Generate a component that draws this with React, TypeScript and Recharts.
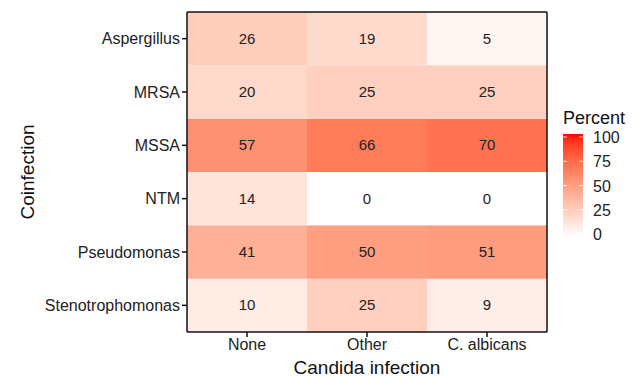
import { Bar, BarChart, Cell, Label, XAxis, YAxis } from "recharts";

const rows = ["Aspergillus", "MRSA", "MSSA", "NTM", "Pseudomonas", "Stenotrophomonas"];
const cols = ["None", "Other", "C. albicans"];
const noneVals = [26, 20, 57, 14, 41, 10];
const otherVals = [19, 25, 66, 0, 50, 25];
const albicansVals = [5, 25, 70, 0, 51, 9];
const legendTicks = [0, 25, 50, 75, 100];

const colVals = [noneVals, otherVals, albicansVals];

const FONT = "'Liberation Sans', Arial, sans-serif";

// white -> red, interpolated in Lab like ggplot's gradient
function toLin(c: number) {
  c /= 255;
  return c <= 0.04045 ? c / 12.92 : Math.pow((c + 0.055) / 1.055, 2.4);
}
function fromLin(c: number) {
  const v = c <= 0.0031308 ? 12.92 * c : 1.055 * Math.pow(c, 1 / 2.4) - 0.055;
  return Math.max(0, Math.min(255, Math.round(v * 255)));
}
const Xn = 0.95047, Yn = 1, Zn = 1.08883;
function rgbToLab(r: number, g: number, b: number) {
  const R = toLin(r), G = toLin(g), B = toLin(b);
  const X = R * 0.4124 + G * 0.3576 + B * 0.1805;
  const Y = R * 0.2126 + G * 0.7152 + B * 0.0722;
  const Z = R * 0.0193 + G * 0.1192 + B * 0.9505;
  const f = (t: number) => (t > 0.008856 ? Math.cbrt(t) : 7.787 * t + 16 / 116);
  const fx = f(X / Xn), fy = f(Y / Yn), fz = f(Z / Zn);
  return [116 * fy - 16, 500 * (fx - fy), 200 * (fy - fz)];
}
function labToHex(L: number, a: number, b: number) {
  const fy = (L + 16) / 116, fx = fy + a / 500, fz = fy - b / 200;
  const inv = (t: number) => (t ** 3 > 0.008856 ? t ** 3 : (t - 16 / 116) / 7.787);
  const X = inv(fx) * Xn, Y = inv(fy) * Yn, Z = inv(fz) * Zn;
  const R = X * 3.2406 + Y * -1.5372 + Z * -0.4986;
  const G = X * -0.9689 + Y * 1.8758 + Z * 0.0415;
  const B = X * 0.0557 + Y * -0.204 + Z * 1.057;
  const h = (v: number) => fromLin(v).toString(16).padStart(2, "0");
  return "#" + h(R) + h(G) + h(B);
}
const LOW = rgbToLab(255, 255, 255);
const HIGH = rgbToLab(255, 0, 0);
function fillFor(v: number) {
  const t = Math.max(0, Math.min(1, v / 100));
  return labToHex(
    LOW[0] + (HIGH[0] - LOW[0]) * t,
    LOW[1] + (HIGH[1] - LOW[1]) * t,
    LOW[2] + (HIGH[2] - LOW[2]) * t
  );
}

// one stacked segment per row, bottom row first
const data = cols.map((c) => {
  const d: Record<string, string | number> = { col: c };
  rows.forEach((r) => (d[r] = 1));
  return d;
});
const stackOrder = [...rows].reverse();
const rowTicks = rows.map((_, i) => i + 0.5);

function Legend() {
  const top = 134, bottom = 237, x = 563, w = 20;
  const y100 = 137, y0 = 234;
  const yFor = (v: number) => y0 - ((y0 - y100) * v) / 100;
  return (
    <svg width={635} height={377} style={{ position: "absolute", left: 0, top: 0, pointerEvents: "none" }}>
      <defs>
        <linearGradient id="pct" x1="0" y1={bottom} x2="0" y2={top} gradientUnits="userSpaceOnUse">
          {Array.from({ length: 21 }, (_, i) => (
            <stop key={i} offset={`${i * 5}%`} stopColor={fillFor(i * 5)} />
          ))}
        </linearGradient>
      </defs>
      <text x={563} y={124} fontFamily={FONT} fontSize={18} fill="#111">Percent</text>
      <rect x={x} y={top} width={w} height={bottom - top} fill="url(#pct)" />
      {legendTicks.map((t) => (
        <g key={t}>
          <line x1={x} x2={x + 4} y1={yFor(t)} y2={yFor(t)} stroke="#fff" strokeWidth={0.8} />
          <line x1={x + w - 4} x2={x + w} y1={yFor(t)} y2={yFor(t)} stroke="#fff" strokeWidth={0.8} />
          <text x={593} y={yFor(t) + 6} fontFamily={FONT} fontSize={16} fill="#222">{t}</text>
        </g>
      ))}
    </svg>
  );
}

export default function App() {
  return (
    <div style={{ position: "absolute", left: 0, top: 0, width: 635, height: 377, background: "#fff" }}>
      <BarChart
        width={635}
        height={377}
        data={data}
        barCategoryGap={0}
        margin={{ top: 11, right: 87, bottom: 0, left: 0 }}
      >
        <XAxis
          dataKey="col"
          height={45}
          tickSize={5}
          stroke="#111"
          strokeWidth={1.5}
          tick={{ fill: "#222", fontSize: 16, fontFamily: FONT }}
        >
          <Label value="Candida infection" position="insideBottom" offset={3} style={{ fontSize: 19, fill: "#111", fontFamily: FONT }} />
        </XAxis>
        <XAxis xAxisId="top" dataKey="col" orientation="top" height={1} tick={false} tickLine={false} stroke="#111" strokeWidth={1.5} />
        <YAxis
          type="number"
          domain={[0, 6]}
          ticks={rowTicks}
          interval={0}
          width={187}
          tickSize={5}
          stroke="#111"
          strokeWidth={1.5}
          tickFormatter={(v: number) => rows[5 - Math.floor(v)]}
          tick={{ fill: "#222", fontSize: 16, fontFamily: FONT }}
        >
          <Label value="Coinfection" angle={-90} position="insideLeft" offset={27} style={{ fontSize: 19, fill: "#111", fontFamily: FONT, textAnchor: "middle" }} />
        </YAxis>
        <YAxis yAxisId="right" orientation="right" width={1} domain={[0, 6]} tick={false} tickLine={false} stroke="#111" strokeWidth={1.5} />
        {stackOrder.map((r) => {
          const ri = rows.indexOf(r);
          return (
            <Bar
              key={r}
              dataKey={r}
              stackId="a"
              isAnimationActive={false}
              label={(p: any) => (
                <text
                  x={p.x + p.width / 2}
                  y={p.y + p.height / 2 + 5}
                  textAnchor="middle"
                  fontFamily={FONT}
                  fontSize={15}
                  fill="#222"
                >
                  {colVals[p.index][ri]}
                </text>
              )}
            >
              {cols.map((c, ci) => (
                <Cell key={c} fill={fillFor(colVals[ci][ri])} />
              ))}
            </Bar>
          );
        })}
      </BarChart>
      <Legend />
    </div>
  );
}
